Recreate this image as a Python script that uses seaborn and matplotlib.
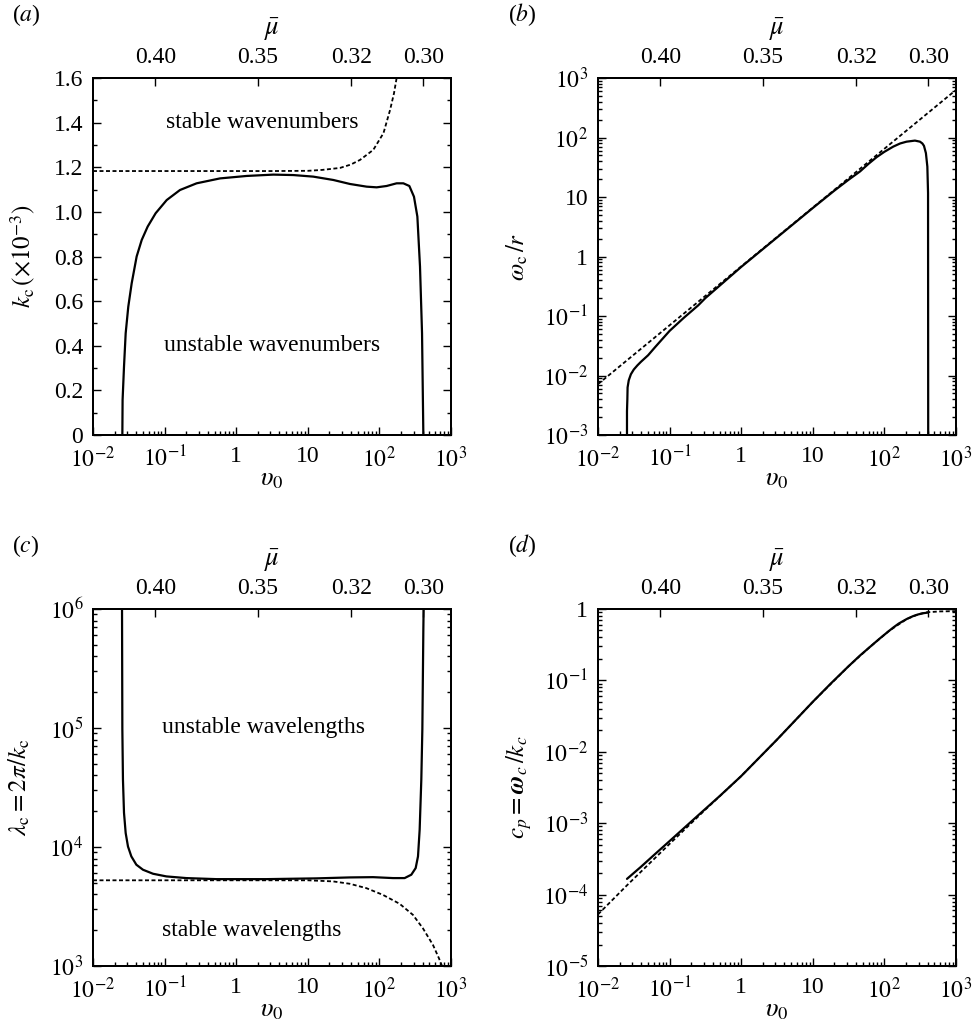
import numpy as np
import pandas as pd
import seaborn as sns
import matplotlib
matplotlib.use("Agg")
import matplotlib.pyplot as plt
from matplotlib.ticker import LogLocator, NullLocator, NullFormatter, MultipleLocator

# (a) critical wavenumber k_c (x1e-3) vs v0
a_v0_solid = [0.0257, 0.0259, 0.0271, 0.0286, 0.0311, 0.0347, 0.0407, 0.0479, 0.0580,
              0.0750, 0.107, 0.164, 0.280, 0.594, 1.40, 3.30, 6.28, 11.9, 22.7, 38.8,
              66.4, 91.6, 126, 174, 216, 262, 304, 339, 369, 394, 411]
a_k_solid = [0.0, 0.157, 0.306, 0.456, 0.575, 0.68, 0.80, 0.874, 0.934,
             0.994, 1.053, 1.098, 1.128, 1.150, 1.161, 1.167, 1.165, 1.158, 1.143, 1.125,
             1.113, 1.110, 1.116, 1.128, 1.128, 1.116, 1.068, 0.979, 0.755, 0.456, 0.0]
a_v0_dash = [0.01, 3.16, 10, 15.8, 28.2, 39.8, 53.7, 82.2, 114, 141, 160, 174, 190]
a_k_dash = [1.183, 1.183, 1.184, 1.188, 1.197, 1.212, 1.233, 1.278, 1.353, 1.457, 1.532, 1.60, 1.70]

# (b) critical frequency omega_c / r
b_v0_solid = [0.0254, 0.0254, 0.0257, 0.0259, 0.0269, 0.0288, 0.0316, 0.0355, 0.0398, 0.0501,
              0.0631, 0.0794, 0.1, 0.158, 0.251, 0.316, 0.501, 1, 10, 20.0, 31.6, 45.7, 60.3,
              78, 100, 133, 166, 204, 267, 314, 339, 357, 380, 398, 407, 409]
b_w_solid = [0.0008, 0.00251, 0.00398, 0.00631, 0.00832, 0.0105, 0.0126, 0.0148, 0.0170, 0.0219,
             0.0302, 0.0412, 0.0562, 0.0933, 0.151, 0.200, 0.324, 0.668, 6.53, 12.8, 19.5, 26.9, 36.3,
             46.8, 57.5, 70.3, 79.4, 85.1, 88.7, 85.1, 79.4, 72.4, 54.6, 32.4, 11.7, 0.0008]
b_v0_dash = [0.01, 1, 1000]
b_w_dash = [0.00716, 0.681, 631]

# (c) critical wavelength lambda_c = 2 pi / k_c
c_v0_solid = [0.0254, 0.0257, 0.0262, 0.0271, 0.0286, 0.0308, 0.0343, 0.0403, 0.0499, 0.0689,
              0.106, 0.201, 0.528, 2.64, 13.2, 38.5, 81.5, 155, 225, 279, 321, 346, 365, 385,
              398, 411, 417]
c_lam_solid = [1.3e6, 97700, 36900, 19400, 13100, 10100, 8340, 7100, 6440, 5960,
               5660, 5480, 5370, 5370, 5450, 5550, 5580, 5480, 5480, 5850, 6650, 8340, 14000, 36900,
               97700, 676000, 1.3e6]
c_v0_dash = [0.01, 10, 22.5, 38.5, 65.8, 112, 192, 294, 406, 561, 679, 861]
c_lam_dash = [5250, 5250, 5140, 4910, 4510, 3960, 3330, 2690, 2070, 1500, 1160, 813]

# (d) phase speed c_p = omega_c / k_c
d_v0_solid = [0.0254, 0.0398, 0.0631, 0.1, 0.251, 0.501, 1, 3.16, 10, 17.8, 31.6, 45.6, 63.0,
              86.9, 115, 133, 158, 205, 251, 298, 355, 407]
d_cp_solid = [1.66e-4, 2.45e-4, 3.72e-4, 5.62e-4, 1.29e-3, 2.40e-3, 4.57e-3, 0.0148, 0.0501, 0.0902,
              0.158, 0.223, 0.295, 0.389, 0.490, 0.550, 0.624, 0.724, 0.794, 0.841, 0.875, 0.891]
d_v0_dash = [0.01, 0.0254, 0.1, 0.316, 1, 3.16, 10, 31.6, 63.0, 115, 205, 298, 389, 600, 1000]
d_cp_dash = [5.28e-5, 1.35e-4, 5.13e-4, 1.55e-3, 4.57e-3, 0.0148, 0.0501, 0.158, 0.295, 0.490,
             0.724, 0.845, 0.90, 0.925, 0.933]

# top axis: mean friction coefficient
mu_pos = [0.074, 2.02, 40.7, 410]
mu_labels = ["0.40", "0.35", "0.32", "0.30"]

x_ticks = [1e-2, 1e-1, 1, 10, 1e2, 1e3]
x_labels = [r"$10^{-2}$", r"$10^{-1}$", "1", "10", r"$10^{2}$", r"$10^{3}$"]

sns.set_theme(style="ticks")
plt.rcParams["font.family"] = ["Liberation Serif", "DejaVu Serif"]
plt.rcParams["mathtext.fontset"] = "stix"
plt.rcParams["axes.edgecolor"] = "black"
plt.rcParams["axes.linewidth"] = 1.4
plt.rcParams["xtick.color"] = "black"
plt.rcParams["ytick.color"] = "black"
plt.rcParams["text.color"] = "black"
plt.rcParams["axes.labelcolor"] = "black"

FS = 17
fig = plt.figure(figsize=(9.75, 10.29), dpi=100)
W, H = 358 / 975, 357 / 1029
rects = {
    "a": [93 / 975, 1 - 435 / 1029, W, H],
    "b": [598 / 975, 1 - 435 / 1029, W, H],
    "c": [93 / 975, 1 - 966 / 1029, W, H],
    "d": [598 / 975, 1 - 966 / 1029, W, H],
}


def draw(ax, x, y, dashed=False):
    df = pd.DataFrame({"x": x, "y": y})
    if dashed:
        sns.lineplot(data=df, x="x", y="y", ax=ax, color="black", lw=1.3,
                     linestyle=(0, (2.2, 1.4)), estimator=None, sort=False)
    else:
        sns.lineplot(data=df, x="x", y="y", ax=ax, color="black", lw=1.6,
                     estimator=None, sort=False)


def style(ax, ylabel, ylab_x):
    ax.set_xscale("log")
    ax.set_xlim(1e-2, 1e3)
    ax.set_xticks(x_ticks)
    ax.set_xticklabels(x_labels)
    ax.xaxis.set_minor_locator(LogLocator(base=10, subs=np.arange(2, 10), numticks=100))
    ax.xaxis.set_minor_formatter(NullFormatter())
    ax.tick_params(which="both", direction="in", top=False, right=True, labelsize=FS, width=1.0)
    ax.tick_params(which="major", length=6, pad=7)
    ax.tick_params(axis="x", which="major", pad=8)
    ax.tick_params(which="minor", length=3)
    ax.set_xlabel(r"$\upsilon_0$", fontsize=FS + 2)
    ax.xaxis.set_label_coords(0.5, -0.095)
    ax.xaxis.label.set_va("top")
    ax.set_ylabel(ylabel, fontsize=FS + 1)
    ax.yaxis.set_label_coords(ylab_x, 0.5)
    for s in ax.spines.values():
        s.set_visible(True)
        s.set_linewidth(1.4)

    top = ax.twiny()
    top.set_xscale("log")
    top.set_xlim(1e-2, 1e3)
    top.set_xticks(mu_pos)
    top.set_xticklabels(mu_labels)
    top.xaxis.set_minor_locator(NullLocator())
    top.tick_params(direction="in", length=6, width=1.0, labelsize=FS, pad=7)
    top.set_xlabel(r"$\bar{\mu}$", fontsize=FS + 2, labelpad=9)
    for s in top.spines.values():
        s.set_linewidth(1.4)


def log_y(ax, lo, hi, labels):
    ax.set_yscale("log")
    ax.set_ylim(lo, hi)
    ticks = [10.0 ** e for e in range(int(np.log10(lo)), int(np.log10(hi)) + 1)]
    ax.set_yticks(ticks)
    ax.set_yticklabels(labels)
    ax.yaxis.set_minor_locator(LogLocator(base=10, subs=np.arange(2, 10), numticks=100))
    ax.yaxis.set_minor_formatter(NullFormatter())


# (a)
ax = fig.add_axes(rects["a"])
draw(ax, a_v0_dash, a_k_dash, dashed=True)
draw(ax, a_v0_solid, a_k_solid)
ax.set_ylim(0, 1.6)
ax.set_yticks(np.arange(0, 1.61, 0.2))
ax.set_yticklabels(["0", "0.2", "0.4", "0.6", "0.8", "1.0", "1.2", "1.4", "1.6"])
ax.yaxis.set_minor_locator(MultipleLocator(0.1))
ax.text(2.3, 1.40, "stable wavenumbers", ha="center", va="center", fontsize=FS)
ax.text(3.2, 0.40, "unstable wavenumbers", ha="center", va="center", fontsize=FS)
style(ax, r"$k_{\rm c}\,(\times 10^{-3})$", -0.155)

# (b)
ax = fig.add_axes(rects["b"])
draw(ax, b_v0_dash, b_w_dash, dashed=True)
draw(ax, b_v0_solid, b_w_solid)
log_y(ax, 1e-3, 1e3, [r"$10^{-3}$", r"$10^{-2}$", r"$10^{-1}$", "1", "10", r"$10^{2}$", r"$10^{3}$"])
style(ax, r"$\omega_{\rm c}\,/r$", -0.19)

# (c)
ax = fig.add_axes(rects["c"])
draw(ax, c_v0_dash, c_lam_dash, dashed=True)
draw(ax, c_v0_solid, c_lam_solid)
log_y(ax, 1e3, 1e6, [r"$10^{3}$", r"$10^{4}$", r"$10^{5}$", r"$10^{6}$"])
ax.text(2.4, 1.0e5, "unstable wavelengths", ha="center", va="center", fontsize=FS)
ax.text(1.65, 2.0e3, "stable wavelengths", ha="center", va="center", fontsize=FS)
style(ax, r"$\lambda_{\rm c} = 2\pi/k_{\rm c}$", -0.17)

# (d)
ax = fig.add_axes(rects["d"])
draw(ax, d_v0_dash, d_cp_dash, dashed=True)
draw(ax, d_v0_solid, d_cp_solid)
log_y(ax, 1e-5, 1, [r"$10^{-5}$", r"$10^{-4}$", r"$10^{-3}$", r"$10^{-2}$", r"$10^{-1}$", "1"])
style(ax, r"$c_p = \boldsymbol{\omega}_c\,/k_c$", -0.18)

for lab, x, y in [("a", 12, 15), ("b", 508, 15), ("c", 12, 546), ("d", 508, 546)]:
    fig.text(x / 975, 1 - y / 1029, "(" + r"$" + lab + r"$" + ")", fontsize=FS, va="center", ha="left")

fig.savefig("out.png", dpi=100)
